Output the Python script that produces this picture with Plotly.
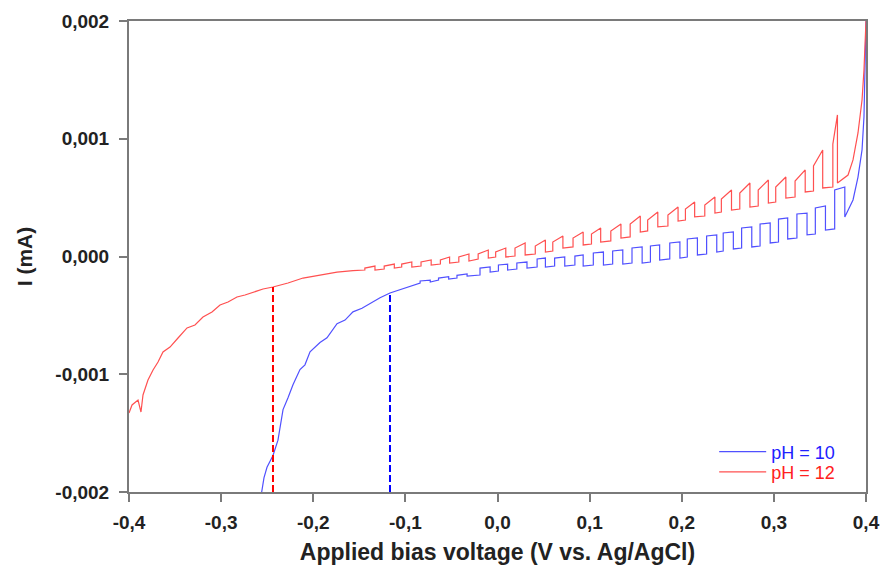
import plotly.graph_objects as go

# ---------------- data ----------------
x_ticks = [-0.4, -0.3, -0.2, -0.1, 0.0, 0.1, 0.2, 0.3, 0.4]
x_tick_text = ["-0,4", "-0,3", "-0,2", "-0,1", "0,0", "0,1", "0,2", "0,3", "0,4"]
y_ticks = [-0.002, -0.001, 0.0, 0.001, 0.002]
y_tick_text = ["-0,002", "-0,001", "0,000", "0,001", "0,002"]

# pH = 10 : dark (un-chopped) part
pH10_smooth_v = [-0.257, -0.2535, -0.2502, -0.2437, -0.2383, -0.2328, -0.2274, -0.2220, -0.2144,
                 -0.2090, -0.2035, -0.1927, -0.1851, -0.1742, -0.1655, -0.1569, -0.1471, -0.1384,
                 -0.1275, -0.1167, -0.1004]
pH10_smooth_i = [-0.00205, -0.00188, -0.00179, -0.00169, -0.00156, -0.00130, -0.00120, -0.00109, -0.00096,
                 -0.00092, -0.00081, -0.00073, -0.00069, -0.00057, -0.00054, -0.00047, -0.00044, -0.00040,
                 -0.00035, -0.00031, -0.00027]
# pH = 10 : chopped-light periods
pH10_on_v = [-0.084, -0.064, -0.044, -0.019, 0.001, 0.021, 0.043, 0.062, 0.084, 0.104, 0.125, 0.146,
             0.166, 0.187, 0.206, 0.227, 0.245, 0.265, 0.285, 0.305, 0.325, 0.345, 0.366]
pH10_off_v = [-0.073, -0.053, -0.033, -0.008, 0.011, 0.032, 0.052, 0.073, 0.093, 0.115, 0.136, 0.157,
              0.176, 0.198, 0.217, 0.238, 0.256, 0.276, 0.296, 0.315, 0.336, 0.356, 0.377]
pH10_dark_i = [-0.000225, -0.000200, -0.000183, -0.000157, -0.000123, -0.000106, -0.000089, -0.000081,
               -0.000072, -0.000072, -0.000064, -0.000055, -0.000047, -0.000021, -0.000004, 0.000021,
               0.000047, 0.000072, 0.000089, 0.000123, 0.000157, 0.000191, 0.000234]
pH10_on_i = [-0.000208, -0.000183, -0.000160, -0.000098, -0.000072, -0.000055, -0.000021, -0.000013,
             0.000004, 0.000030, 0.000047, 0.000072, 0.000089, 0.000115, 0.000149, 0.000174, 0.000200,
             0.000242, 0.000276, 0.000318, 0.000361, 0.000412, 0.000565]
pH10_off_i = [-0.000200, -0.000172, -0.000148, -0.000089, -0.000064, -0.000047, -0.000013, -0.000004,
              0.000013, 0.000038, 0.000055, 0.000081, 0.000098, 0.000123, 0.000157, 0.000183, 0.000208,
              0.000251, 0.000285, 0.000327, 0.000369, 0.000429, 0.000590]
pH10_low_i = [-0.000217, -0.000191, -0.000166, -0.000132, -0.000115, -0.000098, -0.000089, -0.000081,
              -0.000081, -0.000072, -0.000064, -0.000055, -0.000030, -0.000013, 0.000013, 0.000038,
              0.000064, 0.000081, 0.000115, 0.000149, 0.000183, 0.000225, 0.000335]
pH10_tail_v = [0.3859, 0.3913, 0.3957, 0.3978, 0.3993, 0.4]
pH10_tail_i = [0.000480, 0.000675, 0.000905, 0.001185, 0.00160, 0.002]

# pH = 12 : dark (un-chopped) part
pH12_smooth_v = [-0.400, -0.3967, -0.3902, -0.3870, -0.3848, -0.3794, -0.3739, -0.3685, -0.3631,
                 -0.3555, -0.3468, -0.3370, -0.3284, -0.3197, -0.3099, -0.3012, -0.2925, -0.2828,
                 -0.2741, -0.2654, -0.2545, -0.2437, -0.2274, -0.2111, -0.1927, -0.1742, -0.1569]
pH12_smooth_i = [-0.001329, -0.001261, -0.001219, -0.001321, -0.001176, -0.001049, -0.000964, -0.000896,
                 -0.000811, -0.000769, -0.000692, -0.000607, -0.000582, -0.000514, -0.000471, -0.000412,
                 -0.000386, -0.000344, -0.000327, -0.000302, -0.000276, -0.000259, -0.000225, -0.000183,
                 -0.000157, -0.000132, -0.000120]
# pH = 12 : chopped-light periods
pH12_on_v = [-0.144, -0.123, -0.104, -0.083, -0.062, -0.042, -0.021, -0.002, 0.019, 0.041, 0.060, 0.082,
             0.102, 0.123, 0.144, 0.163, 0.185, 0.204, 0.225, 0.243, 0.263, 0.283, 0.302, 0.323, 0.343, 0.364]
pH12_off_v = [-0.133, -0.112, -0.093, -0.072, -0.052, -0.031, -0.010, 0.009, 0.030, 0.052, 0.071, 0.093,
              0.112, 0.134, 0.155, 0.174, 0.196, 0.214, 0.236, 0.254, 0.274, 0.294, 0.313, 0.334, 0.353, 0.369]
pH12_dark_i = [-0.000115, -0.000106, -0.000089, -0.000081, -0.000064, -0.000047, -0.000021, -0.000004,
               0.000004, 0.000021, 0.000047, 0.000081, 0.000106, 0.000132, 0.000166, 0.000217, 0.000259,
               0.000310, 0.000344, 0.000378, 0.000403, 0.000429, 0.000463, 0.000505, 0.000556, 0.000590]
pH12_on_i = [-0.000098, -0.000081, -0.000064, -0.000047, -0.000030, -0.000004, 0.000021, 0.000038,
             0.000072, 0.000089, 0.000123, 0.000157, 0.000191, 0.000217, 0.000276, 0.000310, 0.000352,
             0.000403, 0.000437, 0.000488, 0.000539, 0.000565, 0.000590, 0.000641, 0.000769, 0.000955]
pH12_off_i = [-0.000081, -0.000064, -0.000047, -0.000030, -0.000004, 0.000021, 0.000055, 0.000072,
              0.000115, 0.000140, 0.000174, 0.000208, 0.000242, 0.000276, 0.000344, 0.000378, 0.000420,
              0.000463, 0.000505, 0.000565, 0.000624, 0.000650, 0.000675, 0.000735, 0.000905, 0.001202]
pH12_low_i = [-0.000115, -0.000098, -0.000089, -0.000072, -0.000055, -0.000038, -0.000013, -0.000004,
              0.000013, 0.000038, 0.000072, 0.000098, 0.000123, 0.000157, 0.000208, 0.000251, 0.000301,
              0.000336, 0.000369, 0.000395, 0.000420, 0.000454, 0.000497, 0.000548, 0.000582, 0.000624]
pH12_tail_v = [0.3805, 0.3859, 0.3913, 0.3957, 0.3978, 0.4]
pH12_tail_i = [0.000692, 0.000820, 0.001049, 0.001329, 0.001584, 0.002]

# onset markers (dashed verticals)
onset_v = [-0.2437, -0.1167]
onset_i = [-0.000259, -0.00031]

# ---------------- build ----------------
def build(sv, si, on_v, dark_i, on_i, off_v, off_i, low_i, tv, ti):
    xs, ys = list(sv), list(si)
    for k in range(len(on_v)):
        xs += [on_v[k], on_v[k], off_v[k], off_v[k]]
        ys += [dark_i[k], on_i[k], off_i[k], low_i[k]]
    xs += list(tv)
    ys += list(ti)
    return xs, ys

b_x, b_y = build(pH10_smooth_v, pH10_smooth_i, pH10_on_v, pH10_dark_i, pH10_on_i,
                 pH10_off_v, pH10_off_i, pH10_low_i, pH10_tail_v, pH10_tail_i)
r_x, r_y = build(pH12_smooth_v, pH12_smooth_i, pH12_on_v, pH12_dark_i, pH12_on_i,
                 pH12_off_v, pH12_off_i, pH12_low_i, pH12_tail_v, pH12_tail_i)

BLUE = "rgb(80,80,255)"
RED = "rgb(255,80,80)"
AXIS = "#7a7a7a"
FONT = "Arial, Liberation Sans, sans-serif"

fig = go.Figure()
fig.add_trace(go.Scatter(x=b_x, y=b_y, mode="lines", line=dict(color=BLUE, width=1.2),
                         name="<span style='color:#2020ff'>pH = 10</span>", legend="legend"))
fig.add_trace(go.Scatter(x=r_x, y=r_y, mode="lines", line=dict(color=RED, width=1.2),
                         name="<span style='color:#ff2020'>pH = 12</span>", legend="legend2"))
for v, i, c in zip(onset_v, onset_i, ["#ff0000", "#0000ff"]):
    fig.add_trace(go.Scatter(x=[v, v], y=[y_ticks[0], i], mode="lines", showlegend=False,
                             line=dict(color=c, width=2, dash="7px,3px")))

leg_common = dict(xanchor="left", yanchor="middle", bgcolor="rgba(0,0,0,0)",
                  font=dict(family=FONT, size=18), itemwidth=47)
fig.update_layout(
    width=883, height=571,
    margin=dict(l=129, r=17, t=21, b=79),
    paper_bgcolor="white", plot_bgcolor="white",
    showlegend=True,
    legend=dict(x=0.794, y=0.085, **leg_common),
    legend2=dict(x=0.794, y=0.042, **leg_common),
    font=dict(family=FONT),
)
fig.update_xaxes(range=[-0.4, 0.4], tickvals=x_ticks, ticktext=x_tick_text, automargin=False,
                 showgrid=False, zeroline=False, showline=True, linecolor=AXIS, linewidth=2,
                 mirror=True, ticks="outside", ticklen=8, tickwidth=2, tickcolor=AXIS,
                 tickfont=dict(family=FONT, size=19, color="#222", weight="bold"),
                 ticklabelstandoff=4,
                 title=dict(text="Applied bias voltage (V vs. Ag/AgCl)", standoff=12,
                            font=dict(family=FONT, size=23, color="#222", weight="bold")))
fig.update_yaxes(range=[-0.002, 0.002], tickvals=y_ticks, ticktext=y_tick_text, automargin=False,
                 showgrid=False, zeroline=False, showline=True, linecolor=AXIS, linewidth=2,
                 mirror=True, ticks="outside", ticklen=8, tickwidth=2, tickcolor=AXIS,
                 tickfont=dict(family=FONT, size=19, color="#222", weight="bold"),
                 ticklabelstandoff=6,
                 title=dict(text="I (mA)", standoff=17,
                            font=dict(family=FONT, size=21, color="#222", weight="bold")))

fig.write_html("out.html")
